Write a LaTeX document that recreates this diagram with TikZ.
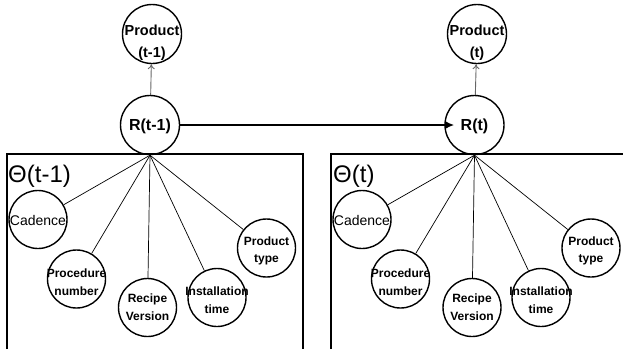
\documentclass[tikz,border=0pt]{standalone}
\usepackage{fontspec}
\setmainfont{Liberation Sans}
\usetikzlibrary{arrows.meta}
\begin{document}
\begin{tikzpicture}[x=1pt,y=-1pt,
  bignode/.style={circle,draw,line width=1.4pt,minimum size=59pt,inner sep=0pt},
  smallnode/.style={circle,draw,line width=1.4pt,minimum size=58pt,inner sep=0pt},
  plbl/.style={font=\bfseries\fontsize{14.5}{22}\selectfont,align=center,inner sep=0pt},
  rlbl/.style={font=\bfseries\fontsize{16}{18}\selectfont,inner sep=0pt},
  slbl/.style={font=\bfseries\fontsize{12}{17.5}\selectfont,align=center,inner sep=0pt},
  clbl/.style={font=\fontsize{14}{17}\selectfont,inner sep=0pt},
  thlbl/.style={font=\fontsize{24}{26}\selectfont,anchor=base west,inner sep=0pt},
  spoke/.style={line width=0.7pt},
  up/.style={draw=black!60,line width=0.9pt,-{To[length=5pt,width=7pt]}},
  frame/.style={line width=1.6pt},
]
\useasboundingbox (0,0) rectangle (623,349);

% ---------- left slice ----------
\draw[frame] (7,349) -- (7,154) -- (303,154) -- (303,349);
\node[thlbl] (T1) at (8,182) {Θ(t-1)};

\node[bignode] (P1) at (152,34) {};
\node[plbl] (P1l) at (152,43) {Product\\(t-1)};
\node[bignode] (R1) at (150,125) {};
\node[rlbl] (R1l) at (150,126) {R(t-1)};

\node[smallnode] (C1) at (38,219.5) {};
\node[clbl] (C1l) at (38,220) {Cadence};
\node[smallnode] (N1) at (76.5,279) {};
\node[slbl] (N1l) at (76.5,282) {Procedure\\number};
\node[smallnode] (V1) at (147.5,307.5) {};
\node[slbl] (V1l) at (147.5,307) {Recipe\\Version};
\node[smallnode] (I1) at (217,297.5) {};
\node[slbl] (I1l) at (217,300) {Installation\\time};
\node[smallnode] (Q1) at (266.5,248) {};
\node[slbl] (Q1l) at (266.5,251) {Product\\type};

\draw[up] (R1) -- (P1);
\foreach \n in {C1,N1,V1,I1,Q1} \draw[spoke] (R1.south) -- (\n);

% ---------- right slice ----------
\draw[frame] (331,349) -- (331,154) -- (623,154);
\node[thlbl] (T2) at (333,182) {Θ(t)};

\node[bignode] (P2) at (477,34) {};
\node[plbl] (P2l) at (477,43) {Product\\(t)};
\node[bignode] (R2) at (474.5,125) {};
\node[rlbl] (R2l) at (474.5,126) {R(t)};

\node[smallnode] (C2) at (362,219.5) {};
\node[clbl] (C2l) at (362,220) {Cadence};
\node[smallnode] (N2) at (400.5,279) {};
\node[slbl] (N2l) at (400.5,282) {Procedure\\number};
\node[smallnode] (V2) at (472,307.5) {};
\node[slbl] (V2l) at (472,307) {Recipe\\Version};
\node[smallnode] (I2) at (541,297.5) {};
\node[slbl] (I2l) at (541,300) {Installation\\time};
\node[smallnode] (Q2) at (591,248) {};
\node[slbl] (Q2l) at (591,251) {Product\\type};

\draw[up] (R2) -- (P2);
\foreach \n in {C2,N2,V2,I2,Q2} \draw[spoke] (R2.south) -- (\n);

% ---------- transition ----------
\draw[line width=1.8pt,-{Latex[length=9pt,width=8pt]},shorten >=-10pt] (R1) -- (R2);
\end{tikzpicture}
\end{document}
